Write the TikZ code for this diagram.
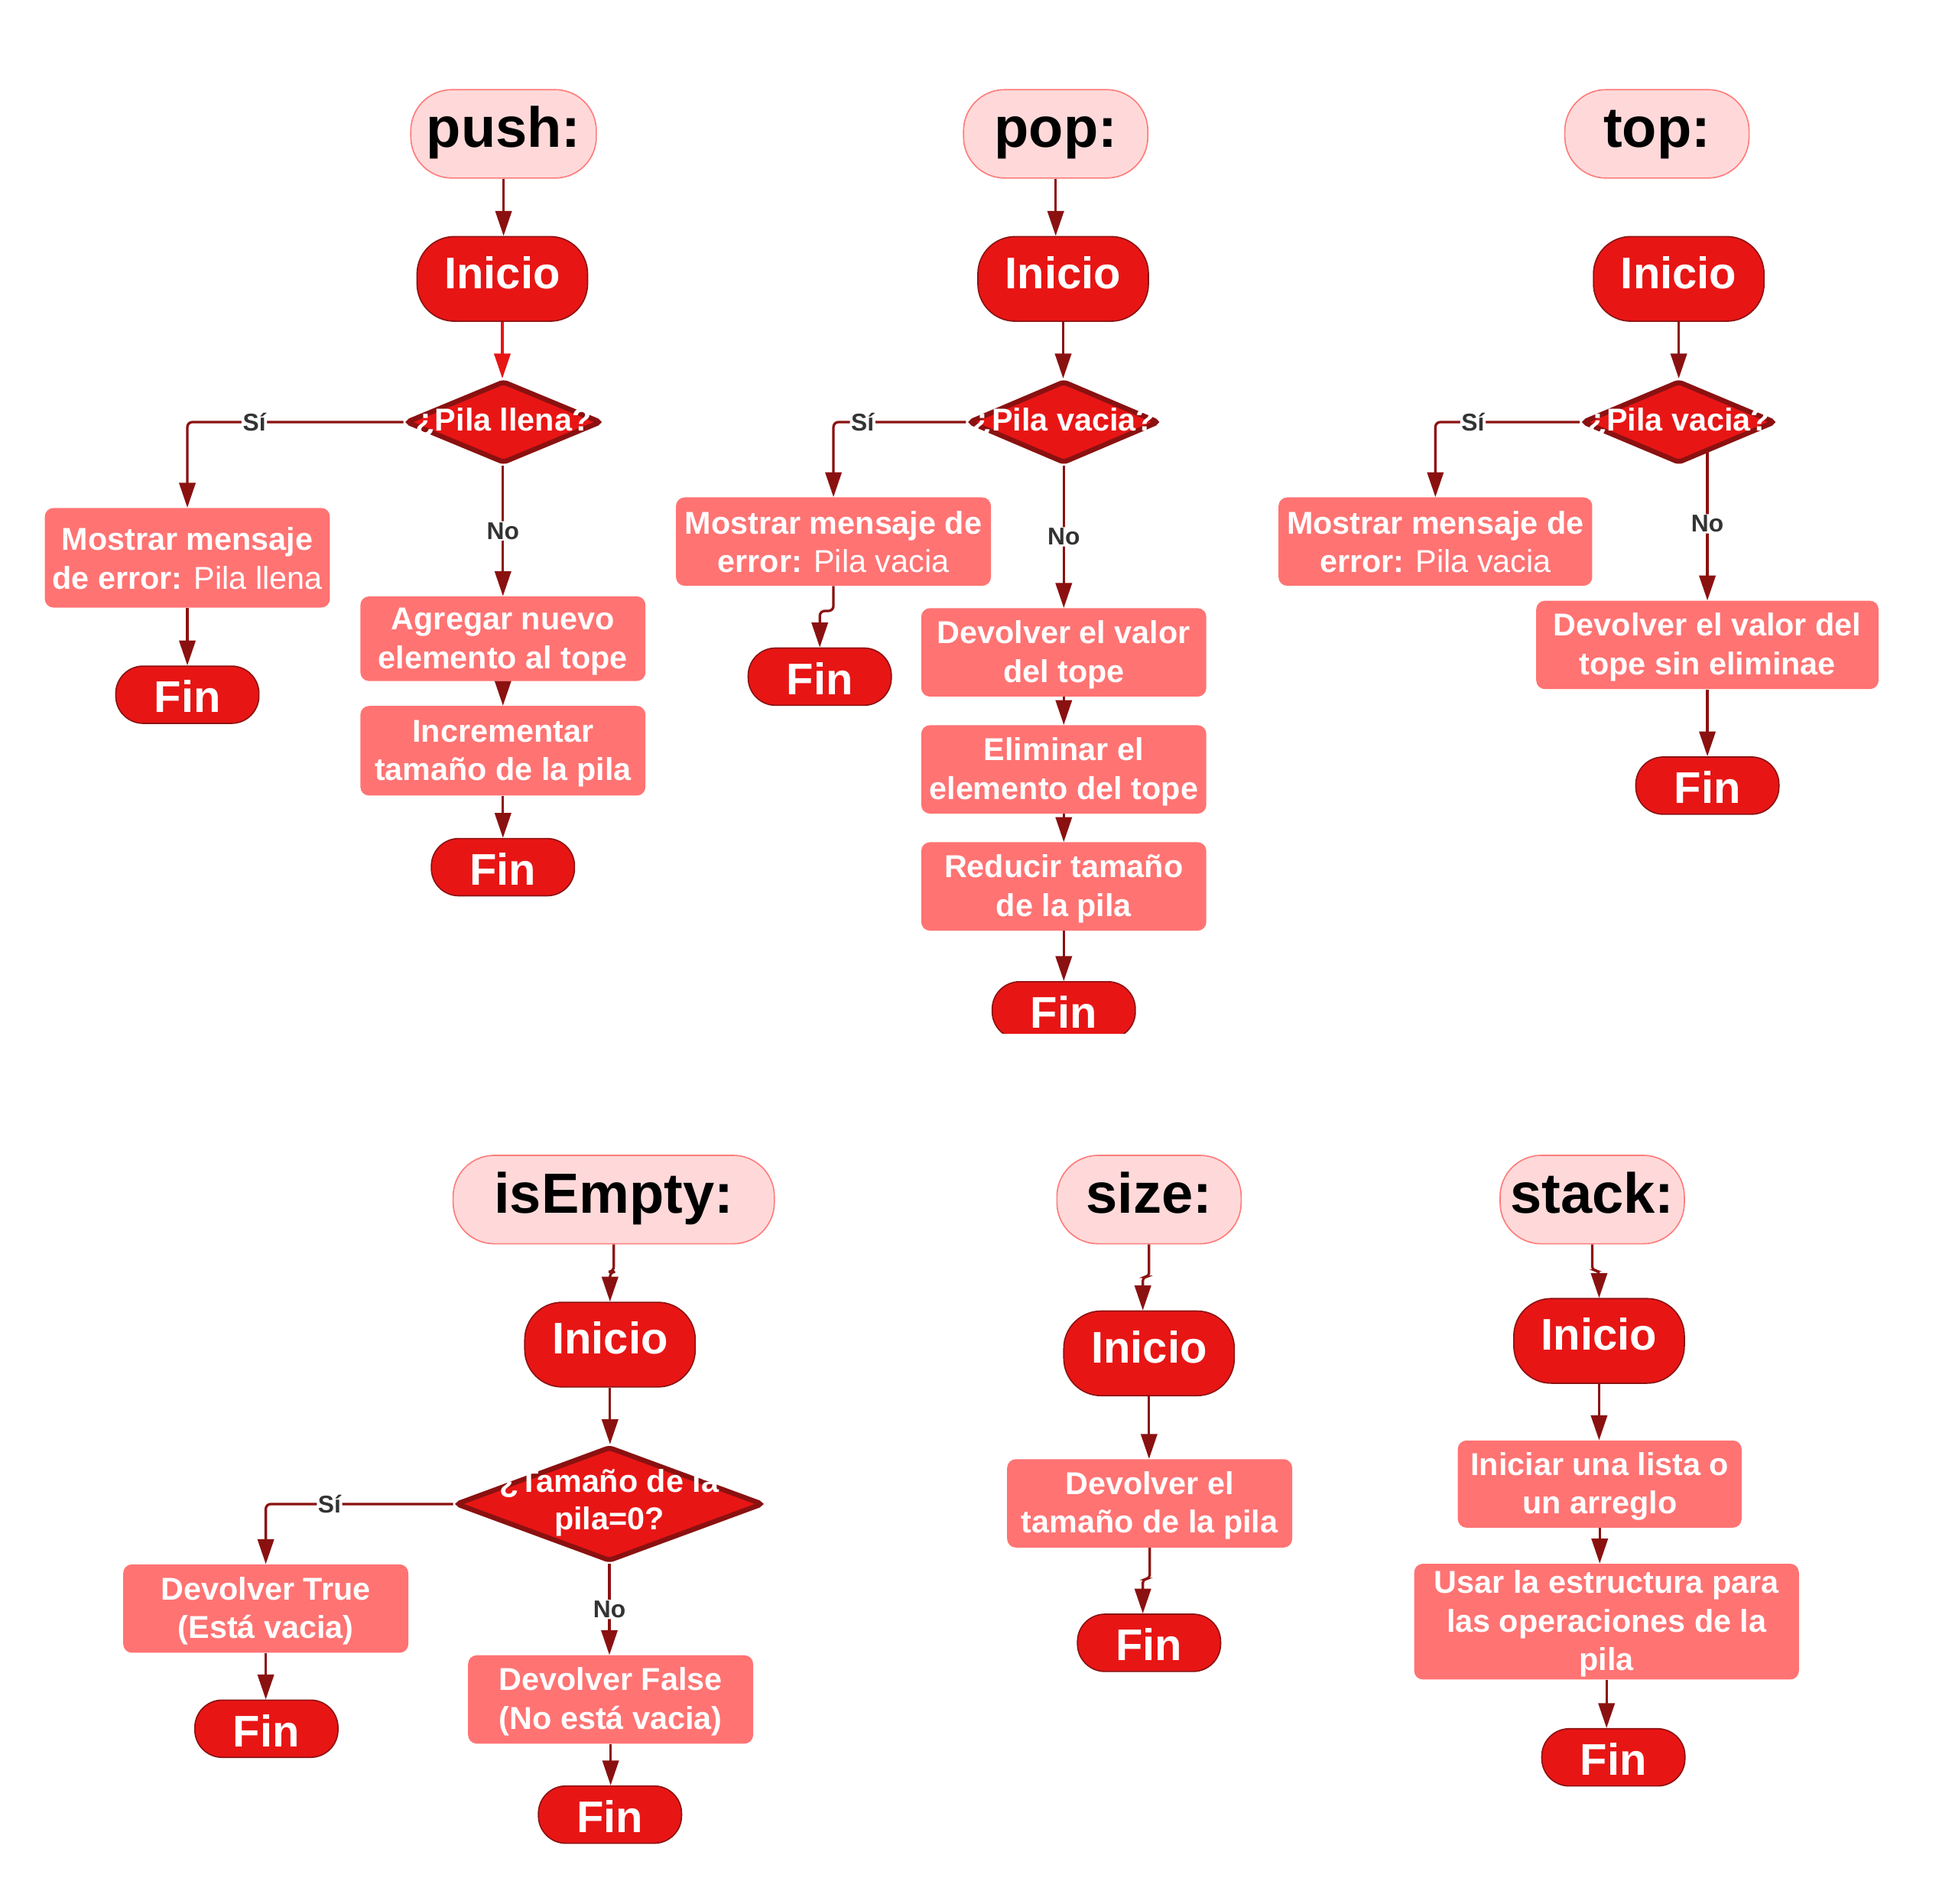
\documentclass[tikz,border=0pt]{standalone}
\usepackage{fontspec}
\setmainfont{Liberation Sans}
\usetikzlibrary{arrows.meta,shapes.geometric,calc}
\definecolor{cred}{HTML}{E81515}
\definecolor{cdark}{HTML}{8B1111}
\definecolor{csalmon}{HTML}{FF7373}
\definecolor{cpink}{HTML}{FFD9D9}
\definecolor{cpinkb}{HTML}{FF7B7B}
\definecolor{clbl}{HTML}{333333}
\pgfdeclarelayer{bg}
\pgfsetlayers{bg,main}
\newcommand{\lnA}{\rule[-3pt]{0pt}{25pt}}
\begin{document}
\begin{tikzpicture}[x=1pt,y=-1pt,
 title/.style={draw=cpinkb, line width=1pt, fill=cpink, rounded corners=33pt, minimum height=71pt, minimum width=148pt, inner sep=0pt, font=\fontsize{45.5}{50}\selectfont\bfseries, text=black, text height=33pt, text depth=11.4pt},
 term/.style={draw=cdark, line width=1pt, fill=cred, rounded corners=30pt, minimum height=68pt, minimum width=137pt, inner sep=0pt, font=\fontsize{35.6}{40}\selectfont\bfseries, text=white, text height=26pt, text depth=10.8pt},
 fin/.style={term, rounded corners=22pt, minimum height=46pt, minimum width=115pt, text height=30pt, text depth=1.2pt},
 proc/.style={fill=csalmon, rounded corners=7pt, minimum width=229pt, minimum height=71pt, inner sep=0pt, align=center, font=\fontsize{25.4}{31}\selectfont\bfseries, text=white},
 dec/.style={diamond, draw=cdark, line width=4pt, fill=cred, rounded corners=3pt, minimum width=157pt, minimum height=66pt, inner sep=0pt},
 dectext/.style={font=\fontsize{25.4}{30}\selectfont\bfseries, text=white, align=center},
 arr/.style={color=cdark, line width=2pt, -{Triangle[length=20pt,width=13pt]}, rounded corners=4pt},
 lbl/.style={fill=white, text=clbl, font=\fontsize{19.5}{20}\selectfont\bfseries, inner sep=1pt},
]
\useasboundingbox (0,0) rectangle (1568,1529);

% ---------- push ----------
\node[title, minimum width=149pt] (pushT) at (404.5,107.5) {push:};
\node[term] (pushI) at (403.5,224) {Inicio};
\node[dec] (pushD) at (404.5,339) {};
\node[dectext] (pushDt) at (pushD) {¿Pila llena?};
\node[proc, minimum height=80pt] (pushM) at (150.5,448) {\lnA Mostrar mensaje\\de error: {\mdseries Pila llena}\lnA};
\node[fin] (pushF1) at (150.5,558) {Fin};
\node[proc, minimum height=68pt] (pushA) at (404,513) {\lnA Agregar nuevo\\elemento al tope\lnA};
\node[proc, minimum height=72pt] (pushC) at (404,603) {\lnA Incrementar\\tamaño de la pila\lnA};
\node[fin] (pushF2) at (404,696.5) {Fin};

% ---------- pop ----------
\node[title] (popT) at (848,107.5) {pop:};
\node[term] (popI) at (854,224) {Inicio};
\node[dec, minimum width=153pt] (popD) at (854.5,339) {};
\node[dectext] (popDt) at (popD) {¿Pila vacia?};
\node[proc, minimum width=253pt] (popM) at (669.5,435) {\lnA Mostrar mensaje de\\error: {\mdseries Pila vacia}\lnA};
\node[fin] (popF1) at (658.5,543.5) {Fin};
\node[proc] (popV) at (854.5,524) {\lnA Devolver el valor\\del tope\lnA};
\node[proc] (popE) at (854.5,618) {\lnA Eliminar el\\elemento del tope\lnA};
\node[proc] (popR) at (854.5,712) {\lnA Reducir tamaño\\de la pila\lnA};
\begin{scope}
\clip (0,0) rectangle (1568,830);
\node[fin] (popF2) at (854.5,811.5) {Fin};
\end{scope}

% ---------- top ----------
\node[title] (topT) at (1331,107.5) {top:};
\node[term] (topI) at (1348.5,224) {Inicio};
\node[dec, minimum width=155pt] (topD) at (1348.5,339) {};
\node[dectext] (topDt) at (topD) {¿Pila vacia?};
\node[proc, minimum width=252pt] (topM) at (1153,435) {\lnA Mostrar mensaje de\\error: {\mdseries Pila vacia}\lnA};
\node[proc, minimum width=275pt] (topV) at (1371.5,518) {\lnA Devolver el valor del\\tope sin eliminae\lnA};
\node[fin] (topF) at (1371.5,631) {Fin};

% ---------- isEmpty ----------
\node[title, minimum width=258pt] (isT) at (493,963.5) {isEmpty:};
\node[term] (isI) at (490,1080) {Inicio};
\node[dec, minimum width=247pt, minimum height=92pt] (isD) at (489.5,1208) {};
\node[dectext] (isDt) at (489.5,1207) {¿Tamaño de la\\pila=0?};
\node[proc] (isY) at (213.5,1292) {\lnA Devolver True\\(Está vacia)\lnA};
\node[fin] (isF1) at (214,1388.5) {Fin};
\node[proc] (isN) at (490.5,1365) {\lnA Devolver False\\(No está vacia)\lnA};
\node[fin] (isF2) at (490,1457.5) {Fin};

% ---------- size ----------
\node[title] (sizeT) at (923,963.5) {size:};
\node[term] (sizeI) at (923,1087) {Inicio};
\node[proc] (sizeV) at (923.5,1207.5) {\lnA Devolver el\\tamaño de la pila\lnA};
\node[fin] (sizeF) at (923,1319.5) {Fin};

% ---------- stack ----------
\node[title] (stT) at (1279,963.5) {stack:};
\node[term] (stI) at (1284.5,1077) {Inicio};
\node[proc, minimum width=228pt, minimum height=70pt] (stA) at (1285,1192) {\lnA Iniciar una lista o\\un arreglo\lnA};
\node[proc, minimum width=309pt, minimum height=93pt] (stU) at (1290.5,1302.5) {\lnA Usar la estructura para\\las operaciones de la\\pila\lnA};
\node[fin] (stF) at (1296,1411.5) {Fin};

\begin{pgfonlayer}{bg}
% push
\draw[arr] (pushT.south) -- (pushT.south |- pushI.north);
\draw[arr, color=cred] (pushI.south) -- (pushI.south |- pushD.north);
\draw[arr] (pushD.west) -| node[lbl, pos=0.345] {Sí} (pushM.north);
\draw[arr] (pushD.south -| pushA.north) -- node[lbl] {No} (pushA.north);
\draw[arr] (pushM.south) -- (pushF1.north);
\draw[arr] (pushA.south) -- (pushC.north);
\draw[arr] (pushC.south) -- (pushF2.north);
% pop
\draw[arr] (popT.south) -- (popT.south |- popI.north);
\draw[arr] (popI.south) -- (popI.south |- popD.north);
\draw[arr] (popD.west) -| node[lbl, pos=0.39] {Sí} (popM.north);
\draw[arr] (popM.south) -- ++(0,20) -| (popF1.north);
\draw[arr] (popD.south) -- node[lbl] {No} (popD.south |- popV.north);
\draw[arr] (popV.south) -- (popE.north);
\draw[arr] (popE.south) -- (popR.north);
\draw[arr] (popR.south) -- (popF2.north);
% top
\draw[arr] (topI.south) -- (topD.north);
\draw[arr] (topD.west) -| node[lbl, pos=0.37] {Sí} (topM.north);
\draw[arr] (topD.center -| topV.north) -- node[lbl, pos=0.57] {No} (topV.north);
\draw[arr] (topV.south) -- (topF.north);
% isEmpty
\draw[arr] (isT.south) -- ++(0,22) -| (isI.north);
\draw[arr] (isI.south) -- (isI.south |- isD.north);
\draw[arr] (isD.west) -| node[lbl, pos=0.33] {Sí} (isY.north);
\draw[arr] (isD.south) -- node[lbl] {No} (isD.south |- isN.north);
\draw[arr] (isY.south) -- (isY.south |- isF1.north);
\draw[arr] (isN.south) -- (isN.south |- isF2.north);
% size
\draw[arr, rounded corners=3pt] (sizeT.south) -- ++(0,26) -| ([xshift=-5pt]sizeI.north);
\draw[arr] (sizeI.south) -- (sizeI.south |- sizeV.north);
\draw[arr, rounded corners=3pt] (sizeV.south) -- ++(0,25) -| ([xshift=-5pt]sizeF.north);
% stack
\draw[arr, rounded corners=3pt] (stT.south) -- ++(0,21) -| (stI.north);
\draw[arr] (stI.south) -- (stI.south |- stA.north);
\draw[arr] (stA.south) -- (stA.south |- stU.north);
\draw[arr] (stU.south) -- (stU.south |- stF.north);
\end{pgfonlayer}
\end{tikzpicture}
\end{document}
